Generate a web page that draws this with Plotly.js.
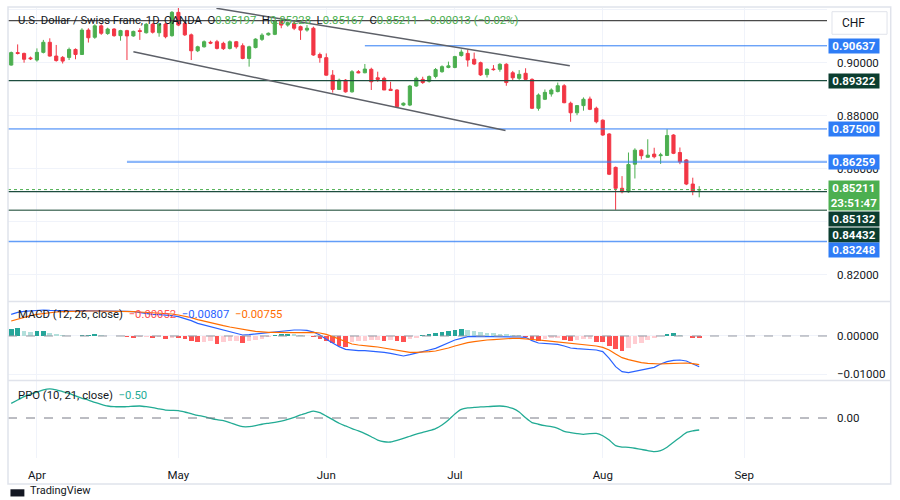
<!DOCTYPE html>
<html>
<head>
<meta charset="utf-8">
<script src="https://cdn.plot.ly/plotly-3.0.1.min.js"></script>
<style>
  html, body { margin: 0; padding: 0; background: #ffffff; }
  #chart { width: 900px; height: 500px; }
</style>
</head>
<body>
<div id="chart"></div>
<script>
// Daily bars, USD/CHF (OANDA), 26 Mar - 22 Aug 2024
const dates = [
  "2024-03-26","2024-03-27","2024-03-28","2024-03-29",
  "2024-04-01","2024-04-02","2024-04-03","2024-04-04","2024-04-05",
  "2024-04-08","2024-04-09","2024-04-10","2024-04-11","2024-04-12",
  "2024-04-15","2024-04-16","2024-04-17","2024-04-18","2024-04-19",
  "2024-04-22","2024-04-23","2024-04-24","2024-04-25","2024-04-26",
  "2024-04-29","2024-04-30",
  "2024-05-01","2024-05-02","2024-05-03",
  "2024-05-06","2024-05-07","2024-05-08","2024-05-09","2024-05-10",
  "2024-05-13","2024-05-14","2024-05-15","2024-05-16","2024-05-17",
  "2024-05-20","2024-05-21","2024-05-22","2024-05-23","2024-05-24",
  "2024-05-27","2024-05-28","2024-05-29","2024-05-30","2024-05-31",
  "2024-06-03","2024-06-04","2024-06-05","2024-06-06","2024-06-07",
  "2024-06-10","2024-06-11","2024-06-12","2024-06-13","2024-06-14",
  "2024-06-17","2024-06-18","2024-06-19","2024-06-20","2024-06-21",
  "2024-06-24","2024-06-25","2024-06-26","2024-06-27","2024-06-28",
  "2024-07-01","2024-07-02","2024-07-03","2024-07-04","2024-07-05",
  "2024-07-08","2024-07-09","2024-07-10","2024-07-11","2024-07-12",
  "2024-07-15","2024-07-16","2024-07-17","2024-07-18","2024-07-19",
  "2024-07-22","2024-07-23","2024-07-24","2024-07-25","2024-07-26",
  "2024-07-29","2024-07-30","2024-07-31",
  "2024-08-01","2024-08-02",
  "2024-08-05","2024-08-06","2024-08-07","2024-08-08","2024-08-09",
  "2024-08-12","2024-08-13","2024-08-14","2024-08-15","2024-08-16",
  "2024-08-19","2024-08-20","2024-08-21","2024-08-22"
];

const open = [
  0.8991,0.9038,0.9035,0.9018,
  0.9010,0.9039,0.9077,0.9025,0.9020,
  0.9020,0.9050,0.9031,0.9123,0.9096,
  0.9139,0.9110,0.9127,0.9102,0.9121,
  0.9101,0.9121,0.9113,0.9145,0.9113,
  0.9146,0.9102,
  0.9190,0.9148,0.9105,
  0.9045,0.9060,0.9077,0.9079,0.9073,
  0.9054,0.9079,0.9064,0.9016,0.9057,
  0.9088,0.9105,0.9107,0.9155,0.9142,
  0.9149,0.9136,0.9123,0.9130,0.9031,
  0.9019,0.8953,0.8899,0.8934,0.8890,
  0.8966,0.8962,0.8975,0.8943,0.8941,
  0.8900,0.8897,0.8840,0.8840,0.8912,
  0.8937,0.8930,0.8948,0.8966,0.8982,
  0.8982,0.9027,0.9035,0.9013,0.9000,
  0.8955,0.8976,0.8975,0.8994,0.8962,
  0.8941,0.8960,0.8937,0.8828,0.8862,
  0.8882,0.8891,0.8913,0.8847,0.8811,
  0.8838,0.8863,0.8828,
  0.8783,0.8731,
  0.8605,0.8526,0.8513,0.8617,0.8670,
  0.8643,0.8655,0.8649,0.8650,0.8727,
  0.8661,0.8633,0.8542,0.85197
];
const high = [
  0.9042,0.9069,0.9038,0.9023,
  0.9054,0.9086,0.9092,0.9067,0.9025,
  0.9057,0.9054,0.9130,0.9130,0.9145,
  0.9145,0.9132,0.9130,0.9124,0.9124,
  0.9121,0.9130,0.9150,0.9150,0.9150,
  0.9150,0.9195,
  0.9209,0.9155,0.9110,
  0.9064,0.9084,0.9083,0.9086,0.9079,
  0.9084,0.9082,0.9073,0.9064,0.9092,
  0.9111,0.9114,0.9161,0.9161,0.9155,
  0.9155,0.9140,0.9142,0.9136,0.9038,
  0.9035,0.8972,0.8940,0.8938,0.8972,
  0.8972,0.8995,0.8981,0.8966,0.8947,
  0.8928,0.8900,0.8850,0.8916,0.8947,
  0.8947,0.8952,0.8980,0.8990,0.9004,
  0.9026,0.9050,0.9050,0.9038,0.9004,
  0.8979,0.8991,0.8998,0.8998,0.8969,
  0.8972,0.8979,0.8941,0.8884,0.8899,
  0.8903,0.8925,0.8919,0.8853,0.8840,
  0.8869,0.8872,0.8834,
  0.8786,0.8734,
  0.8608,0.8572,0.8661,0.8677,0.8673,
  0.8711,0.8679,0.8660,0.8749,0.8730,
  0.8680,0.8636,0.8566,0.8534
];
const low = [
  0.8989,0.9031,0.9000,0.9010,
  0.9004,0.9035,0.9023,0.9004,0.8997,
  0.9010,0.9013,0.9029,0.9076,0.9090,
  0.9105,0.9105,0.9098,0.9083,0.9010,
  0.9098,0.9086,0.9110,0.9110,0.9098,
  0.9092,0.9098,
  0.9138,0.9101,0.9010,
  0.9040,0.9057,0.9070,0.9050,0.9048,
  0.9050,0.9053,0.9013,0.8985,0.9054,
  0.9082,0.9102,0.9104,0.9130,0.9136,
  0.9123,0.9086,0.9117,0.9026,0.9000,
  0.8951,0.8887,0.8897,0.8887,0.8887,
  0.8960,0.8960,0.8897,0.8928,0.8897,
  0.8895,0.8830,0.8836,0.8836,0.8909,
  0.8920,0.8925,0.8941,0.8962,0.8979,
  0.8979,0.9023,0.8985,0.8991,0.8950,
  0.8944,0.8970,0.8966,0.8913,0.8932,
  0.8935,0.8935,0.8825,0.8819,0.8859,
  0.8872,0.8888,0.8847,0.8777,0.8802,
  0.8819,0.8821,0.8771,
  0.8724,0.8576,
  0.8443,0.8507,0.8509,0.8563,0.8635,
  0.8643,0.8639,0.8618,0.8649,0.8655,
  0.8617,0.8538,0.8500,0.8492
];
const close = [
  0.9038,0.9035,0.9013,0.9015,
  0.9039,0.9077,0.9025,0.9008,0.9006,
  0.9050,0.9031,0.9123,0.9094,0.9139,
  0.9111,0.9127,0.9102,0.9121,0.9101,
  0.9118,0.9118,0.9145,0.9115,0.9146,
  0.9098,0.9190,
  0.9142,0.9105,0.9045,
  0.9060,0.9079,0.9074,0.9054,0.9053,
  0.9079,0.9060,0.9016,0.9060,0.9089,
  0.9104,0.9111,0.9157,0.9142,0.9151,
  0.9130,0.9123,0.9130,0.9029,0.9019,
  0.8953,0.8899,0.8934,0.8890,0.8966,
  0.8962,0.8976,0.8928,0.8937,0.8897,
  0.8895,0.8834,0.8847,0.8912,0.8941,
  0.8925,0.8948,0.8974,0.8985,0.8988,
  0.9023,0.9040,0.9010,0.8995,0.8954,
  0.8975,0.8974,0.8994,0.8925,0.8943,
  0.8956,0.8937,0.8828,0.8878,0.8888,
  0.8897,0.8913,0.8849,0.8811,0.8838,
  0.8862,0.8824,0.8777,
  0.8727,0.8579,
  0.8526,0.8513,0.8616,0.8670,0.8649,
  0.8651,0.8645,0.8652,0.8725,0.8658,
  0.8626,0.8542,0.8516,0.85211
];

// MACD (12, 26, close)
const macdLine = [
  0.00570,0.00623,0.00649,0.00667,
  0.00684,0.00684,0.00675,0.00667,0.00658,
  0.00658,0.00658,0.00667,0.00667,0.00667,
  0.00667,0.00667,0.00658,0.00658,0.00649,
  0.00640,0.00614,0.00588,0.00570,0.00561,
  0.00553,0.00535,
  0.00509,0.00465,0.00403,
  0.00333,0.00289,0.00246,0.00202,0.00158,
  0.00105,0.00061,0.00026,0.00035,0.00053,
  0.00079,0.00105,0.00123,0.00140,0.00158,
  0.00158,0.00158,0.00149,0.00105,0.00026,
  -0.00088,-0.00193,-0.00281,-0.00351,-0.00377,
  -0.00386,-0.00386,-0.00395,-0.00403,-0.00430,
  -0.00456,-0.00500,-0.00526,-0.00491,-0.00456,
  -0.00412,-0.00368,-0.00324,-0.00254,-0.00175,
  -0.00105,-0.00061,-0.00018,-0.00009,-0.00009,
  -0.00009,-0.00009,-0.00018,-0.00018,-0.00026,
  -0.00026,-0.00035,-0.00123,-0.00184,-0.00202,
  -0.00210,-0.00219,-0.00263,-0.00316,-0.00333,
  -0.00342,-0.00351,-0.00368,
  -0.00412,-0.00588,
  -0.00807,-0.00938,-0.00965,-0.00930,-0.00895,
  -0.00860,-0.00824,-0.00737,-0.00675,-0.00640,
  -0.00631,-0.00658,-0.00737,-0.00807
];
const signalLine = [
  0.00395,0.00447,0.00491,0.00535,
  0.00570,0.00596,0.00614,0.00631,0.00640,
  0.00649,0.00649,0.00658,0.00658,0.00658,
  0.00658,0.00658,0.00658,0.00649,0.00649,
  0.00640,0.00631,0.00623,0.00614,0.00605,
  0.00596,0.00579,
  0.00553,0.00526,0.00482,
  0.00430,0.00386,0.00342,0.00307,0.00272,
  0.00237,0.00202,0.00175,0.00149,0.00123,
  0.00105,0.00096,0.00096,0.00088,0.00088,
  0.00088,0.00088,0.00096,0.00096,0.00079,
  0.00044,-0.00018,-0.00088,-0.00158,-0.00210,
  -0.00237,-0.00263,-0.00272,-0.00289,-0.00316,
  -0.00342,-0.00377,-0.00412,-0.00430,-0.00430,
  -0.00430,-0.00412,-0.00395,-0.00360,-0.00316,
  -0.00263,-0.00210,-0.00175,-0.00149,-0.00123,
  -0.00105,-0.00096,-0.00079,-0.00070,-0.00061,
  -0.00061,-0.00070,-0.00088,-0.00105,-0.00123,
  -0.00140,-0.00149,-0.00167,-0.00184,-0.00202,
  -0.00228,-0.00246,-0.00263,
  -0.00298,-0.00368,
  -0.00474,-0.00570,-0.00623,-0.00667,-0.00702,
  -0.00719,-0.00737,-0.00737,-0.00728,-0.00719,
  -0.00710,-0.00710,-0.00728,-0.00755
];
const macdHist = [
  0.0019,0.0020,0.0013,0.0011,
  0.0012,0.0013,0.0008,0.0004,0.0002,
  0.0001,-0.00005,0.0002,0.0003,0.0004,
  0.0002,0.0001,0.00005,0.00003,-0.0002,
  -0.0004,-0.0003,-0.0002,-0.0005,-0.0003,
  -0.0007,-0.0004,
  -0.0005,-0.0007,-0.0013,
  -0.0017,-0.0015,-0.0014,-0.0020,-0.0016,
  -0.0014,-0.0013,-0.0018,-0.0014,-0.0011,
  -0.0007,-0.0003,0.0003,0.0004,0.0005,
  0.0004,0.0003,0.0001,-0.0003,-0.0007,
  -0.0012,-0.0019,-0.0027,-0.0030,-0.0017,
  -0.0014,-0.0012,-0.0011,-0.0010,-0.0013,
  -0.0011,-0.0013,-0.0015,-0.0009,-0.0004,
  0.0003,0.0005,0.0008,0.0010,0.0013,
  0.0017,0.0018,0.0016,0.0013,0.0010,
  0.0009,0.0007,0.0005,0.0004,0.0003,
  0.0002,-0.0003,-0.0009,-0.0012,-0.0009,
  -0.0006,-0.0004,-0.0010,-0.0012,-0.0010,
  -0.0008,-0.0007,-0.0015,
  -0.0017,-0.0026,
  -0.0035,-0.0039,-0.0032,-0.0022,-0.0018,
  -0.0011,-0.0004,-0.0001,0.0005,0.0009,
  0.0003,0.0001,-0.0004,-0.00052
];

// PPO (10, 21, close)
const ppoLine = [
  0.61,0.75,0.89,1.00,
  1.08,1.17,1.21,1.17,1.10,
  1.03,0.92,0.82,0.75,0.65,
  0.57,0.50,0.47,0.47,0.47,
  0.49,0.50,0.47,0.43,0.38,
  0.33,0.32,
  0.31,0.25,0.18,
  0.11,0.06,-0.01,-0.07,-0.11,
  -0.19,-0.29,-0.36,-0.36,-0.32,
  -0.26,-0.22,-0.18,-0.13,-0.06,
  0.03,0.13,0.21,0.29,0.22,
  0.08,-0.07,-0.22,-0.33,-0.44,
  -0.54,-0.65,-0.78,-0.92,-0.99,
  -1.00,-0.93,-0.85,-0.76,-0.67,
  -0.60,-0.53,-0.44,-0.29,-0.08,
  0.17,0.36,0.42,0.44,0.46,
  0.47,0.49,0.50,0.47,0.40,
  0.25,0.01,-0.19,-0.26,-0.32,
  -0.36,-0.43,-0.56,-0.61,-0.65,
  -0.68,-0.65,-0.64,
  -0.74,-0.92,
  -1.15,-1.21,-1.22,-1.26,-1.31,
  -1.36,-1.40,-1.36,-1.22,-1.01,
  -0.81,-0.61,-0.54,-0.50
];

const monthTicks = ["2024-04-01","2024-05-01","2024-06-03","2024-07-01","2024-08-01","2024-09-02"];
const monthLabels = ["Apr","May","Jun","Jul","Aug","Sep"];

// drawn levels: price, start date (null = full width), colour, width
const levelPrices = [0.91585, 0.90637, 0.89322, 0.87500, 0.86259, 0.85132, 0.84432, 0.83248];
const levelStarts = [null, "2024-06-11", null, null, "2024-04-19", null, null, null];
const levelColors = ["#4a4a4a", "#2e7cf6", "#1d4d3f", "#2e7cf6", "rgba(46,124,246,0.55)", "#1d4d3f", "#5d7f70", "rgba(46,124,246,0.75)"];
const levelWidths = [1.2, 1, 1.2, 1, 2.2, 1.2, 1.6, 1.5];

// price-scale tags: text, price, background, shift in px
const tagTexts = ["0.90637", "0.89322", "0.87500", "0.86259", "0.85211<br>23:51:47", "0.85132", "0.84432", "0.83248"];
const tagPrices = [0.90637, 0.89322, 0.87500, 0.86259, 0.85211, 0.85132, 0.84432, 0.83248];
const tagColors = ["#2e7cf6", "#0b3d2f", "#2e7cf6", "#2e7cf6", "#4caf50", "#0b3d2f", "#0b3d2f", "#2e7cf6"];
const tagShifts = [0, 0, 0, 0, -6, -27, -25, -8];

const lastPrice = 0.85211;
const DAY = 86400000;
const FONT = "Roboto, 'Liberation Sans', sans-serif";
const TEXT = "#131722";

// TradingView style histogram colours (grow / fall above and below zero)
const histColors = macdHist.map((v, i) => {
  const prev = i > 0 ? macdHist[i - 1] : 0;
  if (v >= 0) return v >= prev ? "#26a69a" : "#b2dfdb";
  return v < prev ? "#ff5252" : "#ffcdd2";
});

const traces = [
  {
    type: "candlestick", x: dates, open: open, high: high, low: low, close: close,
    xaxis: "x", yaxis: "y", whiskerwidth: 0, hoverinfo: "skip", showlegend: false,
    increasing: { line: { color: "#4caf50", width: 1 }, fillcolor: "#4caf50" },
    decreasing: { line: { color: "#f23645", width: 1 }, fillcolor: "#f23645" }
  },
  {
    type: "bar", x: dates, y: macdHist, xaxis: "x", yaxis: "y2",
    marker: { color: histColors, line: { width: 0 } }, width: 0.72 * DAY, showlegend: false
  },
  {
    type: "scatter", mode: "lines", x: dates, y: macdLine, xaxis: "x", yaxis: "y2",
    line: { color: "#2962ff", width: 1.2 }, showlegend: false
  },
  {
    type: "scatter", mode: "lines", x: dates, y: signalLine, xaxis: "x", yaxis: "y2",
    line: { color: "#ff6d00", width: 1.2 }, showlegend: false
  },
  {
    type: "scatter", mode: "lines", x: dates, y: ppoLine, xaxis: "x", yaxis: "y3",
    line: { color: "#22ab94", width: 1.3, shape: "spline", smoothing: 0.6 }, showlegend: false
  }
];

const shapes = [];
levelPrices.forEach((p, i) => {
  shapes.push({
    type: "line", yref: "y", y0: p, y1: p,
    xref: levelStarts[i] ? "x" : "paper",
    x0: levelStarts[i] ? levelStarts[i] : 0,
    x1: levelStarts[i] ? "2024-09-18 21:00" : 1,
    line: { color: levelColors[i], width: levelWidths[i] }
  });
});
// last price line
shapes.push({ type: "line", xref: "paper", x0: 0, x1: 1, yref: "y", y0: lastPrice, y1: lastPrice,
  line: { color: "#4caf50", width: 1, dash: "dot" } });
// descending channel
shapes.push({ type: "line", xref: "x", yref: "y", x0: "2024-05-08 22:00", y0: 0.92053, x1: "2024-07-24 21:00", y1: 0.89887,
  line: { color: "#5d6068", width: 1.5 } });
shapes.push({ type: "line", xref: "x", yref: "y", x0: "2024-04-22", y0: 0.90415, x1: "2024-07-10 21:00", y1: 0.87441,
  line: { color: "#5d6068", width: 1.5 } });
// zero lines of the oscillators
shapes.push({ type: "line", xref: "paper", x0: 0, x1: 1, yref: "y2", y0: 0, y1: 0,
  line: { color: "#9598a1", width: 1, dash: "dash" } });
shapes.push({ type: "line", xref: "paper", x0: 0, x1: 1, yref: "y3", y0: 0, y1: 0,
  line: { color: "#787b86", width: 1, dash: "dash" } });
// pane separators and frame
shapes.push({ type: "line", xref: "paper", yref: "paper", x0: 0, x1: 1.0778, y0: 0.3478, y1: 0.3478,
  line: { color: "#e0e3eb", width: 1.5 } });
shapes.push({ type: "line", xref: "paper", yref: "paper", x0: 0, x1: 1.0778, y0: 0.1722, y1: 0.1722,
  line: { color: "#e0e3eb", width: 1.5 } });
shapes.push({ type: "rect", xref: "paper", yref: "paper", x0: 0, x1: 1.0778, y0: -0.0578, y1: 1.0022,
  line: { color: "#e0e3eb", width: 1.5 } });
// currency box
shapes.push({ type: "rect", xref: "paper", yref: "paper", x0: 1.0061, x1: 1.0733, y0: 0.9416, y1: 0.9918,
  line: { color: "#e0e3eb", width: 1 }, fillcolor: "#ffffff" });
// watermark logo
shapes.push({ type: "rect", xref: "paper", yref: "paper", x0: 0.003, x1: 0.02, y0: -0.0855, y1: -0.0695,
  line: { width: 0 }, fillcolor: "#131722" });

const green = "#4caf50";
const annotations = [
  {
    xref: "paper", yref: "paper", x: 0.0095, y: 0.9718, xanchor: "left", yanchor: "middle", showarrow: false,
    font: { family: FONT, size: 11.3, color: TEXT },
    text: "U.S. Dollar / Swiss Franc, 1D, OANDA&nbsp;&nbsp;O<span style='color:" + green + "'>0.85197</span>" +
      "&nbsp;&nbsp;H<span style='color:" + green + "'>0.85228</span>" +
      "&nbsp;&nbsp;L<span style='color:" + green + "'>0.85167</span>" +
      "&nbsp;&nbsp;C<span style='color:" + green + "'>0.85211</span>" +
      "&nbsp;&nbsp;<span style='color:" + green + "'>−0.00013 (−0.02%)</span>"
  },
  {
    xref: "paper", yref: "paper", x: 0.0095, y: 0.3178, xanchor: "left", yanchor: "middle", showarrow: false,
    font: { family: FONT, size: 11.3, color: TEXT },
    text: "MACD (12, 26, close)&nbsp;&nbsp;<span style='color:#ff5252'>−0.00052</span>" +
      "&nbsp;&nbsp;<span style='color:#2962ff'>−0.00807</span>" +
      "&nbsp;&nbsp;<span style='color:#ff6d00'>−0.00755</span>"
  },
  {
    xref: "paper", yref: "paper", x: 0.0095, y: 0.14, xanchor: "left", yanchor: "middle", showarrow: false,
    font: { family: FONT, size: 11.3, color: TEXT },
    text: "PPO (10, 21, close)&nbsp;&nbsp;<span style='color:#22ab94'>−0.50</span>"
  },
  {
    xref: "paper", yref: "paper", x: 1.0159, y: 0.9667, xanchor: "left", yanchor: "middle", showarrow: false,
    font: { family: FONT, size: 12, color: TEXT }, text: "CHF"
  },
  {
    xref: "paper", yref: "paper", x: 0.024, y: -0.0911, xanchor: "left", yanchor: "bottom", showarrow: false,
    font: { family: FONT, size: 11, color: TEXT }, text: "TradingView"
  }
];
tagTexts.forEach((t, i) => {
  annotations.push({
    xref: "paper", yref: "y", x: 1, y: tagPrices[i], xanchor: "left", yanchor: "middle",
    xshift: 1, yshift: tagShifts[i], showarrow: false, width: 50, borderpad: 0,
    bgcolor: tagColors[i], align: "center",
    font: { family: FONT, size: 11.5, color: "#ffffff", weight: "bold" }, text: t
  });
});

const layout = {
  width: 900, height: 500,
  margin: { l: 8, r: 73, t: 8, b: 42 },
  paper_bgcolor: "#ffffff", plot_bgcolor: "#ffffff",
  font: { family: FONT, size: 11.5, color: TEXT },
  showlegend: false, bargap: 0,
  xaxis: {
    type: "date", anchor: "y3",
    range: ["2024-03-25 12:00", "2024-09-18 21:00"],
    rangebreaks: [{ bounds: ["sat", "mon"] }],
    rangeslider: { visible: false },
    tickmode: "array", tickvals: monthTicks, ticktext: monthLabels,
    ticks: "", ticklabelstandoff: 8,
    showgrid: true, gridcolor: "#f0f3fa", gridwidth: 1,
    zeroline: false, showline: false,
    tickfont: { family: FONT, size: 11.5, color: TEXT }
  },
  yaxis: {
    domain: [0.3489, 1], anchor: "x", side: "right",
    range: [0.81007, 0.92064],
    tickmode: "array",
    tickvals: [0.82, 0.84, 0.86, 0.88, 0.90, 0.92],
    ticktext: ["0.82000", "", "0.86000", "0.88000", "0.90000", ""],
    ticks: "", ticklabelstandoff: 9,
    showgrid: true, gridcolor: "#f0f3fa", zeroline: false, showline: false,
    tickfont: { family: FONT, size: 11.5, color: TEXT }
  },
  yaxis2: {
    domain: [0.1733, 0.3467], anchor: "x", side: "right",
    range: [-0.011579, 0.008947],
    tickmode: "array", tickvals: [0, -0.01], ticktext: ["0.00000", "−0.01000"],
    ticks: "", ticklabelstandoff: 9,
    showgrid: true, gridcolor: "#f0f3fa", zeroline: false, showline: false,
    tickfont: { family: FONT, size: 11.5, color: TEXT }
  },
  yaxis3: {
    domain: [0, 0.1711], anchor: "x", side: "right",
    range: [-1.6667, 1.5417],
    tickmode: "array", tickvals: [0], ticktext: ["0.00"],
    ticks: "", ticklabelstandoff: 9,
    showgrid: false, zeroline: false, showline: false,
    tickfont: { family: FONT, size: 11.5, color: TEXT }
  },
  shapes: shapes,
  annotations: annotations
};

Plotly.newPlot("chart", traces, layout, { staticPlot: true, displayModeBar: false });
</script>
</body>
</html>
